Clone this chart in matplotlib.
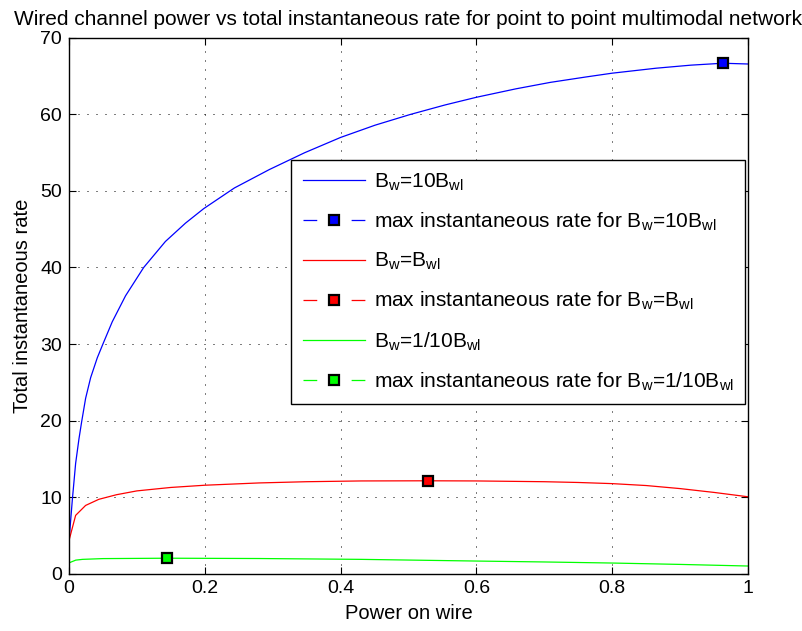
import numpy as np
import matplotlib
matplotlib.use("Agg")
import matplotlib.pyplot as plt

plt.rcParams['font.family'] = ['Liberation Sans', 'DejaVu Sans']
plt.rcParams['mathtext.fontset'] = 'custom'
plt.rcParams['mathtext.rm'] = 'Liberation Sans'
plt.rcParams['mathtext.it'] = 'Liberation Sans'

# power on wire (x) and estimated total instantaneous rate for each bandwidth ratio
x_blue = [0.0, 0.0049, 0.0098, 0.0147, 0.0186, 0.0245, 0.0319, 0.0417, 0.050, 0.0637,
          0.0833, 0.110, 0.142, 0.1716, 0.1985, 0.2437, 0.295, 0.347, 0.4, 0.4507,
          0.5025, 0.554, 0.6, 0.658, 0.709, 0.761, 0.8, 0.8647, 0.916, 0.963, 1.0]
y_blue = [4.2, 9.6, 14.4, 17.6, 19.8, 22.9, 25.6, 28.2, 30.0, 32.9,
          36.3, 40.0, 43.4, 45.8, 47.7, 50.4, 52.8, 55.0, 57.0, 58.6,
          60.0, 61.25, 62.25, 63.35, 64.2, 64.9, 65.4, 66.05, 66.45, 66.7, 66.6]

x_red = [0.0, 0.0098, 0.0245, 0.044, 0.07, 0.1, 0.15, 0.2, 0.28, 0.35, 0.43, 0.529,
         0.6, 0.7, 0.75, 0.8, 0.85, 0.9, 0.95, 1.0]
y_red = [4.3, 7.6, 8.9, 9.7, 10.3, 10.8, 11.25, 11.54, 11.84, 12.0, 12.1, 12.12,
         12.1, 12.0, 11.9, 11.75, 11.5, 11.1, 10.6, 10.03]

x_green = [0.0, 0.01, 0.02, 0.05, 0.145, 0.28, 0.43, 0.6, 0.7, 0.8, 0.9, 1.0]
y_green = [1.39, 1.75, 1.85, 1.95, 2.0, 1.96, 1.85, 1.63, 1.51, 1.37, 1.19, 0.98]

max_x = [0.963, 0.529, 0.145]
max_y = [66.7, 12.12, 2.0]

labels = [r'B$_{\mathrm{w}}$=10B$_{\mathrm{wl}}$',
          r'max instantaneous rate for B$_{\mathrm{w}}$=10B$_{\mathrm{wl}}$',
          r'B$_{\mathrm{w}}$=B$_{\mathrm{wl}}$',
          r'max instantaneous rate for B$_{\mathrm{w}}$=B$_{\mathrm{wl}}$',
          r'B$_{\mathrm{w}}$=1/10B$_{\mathrm{wl}}$',
          r'max instantaneous rate for B$_{\mathrm{w}}$=1/10B$_{\mathrm{wl}}$']

colors = ['#0000ff', '#ff0000', '#00ff00']

fig = plt.figure(figsize=(8.03, 6.31), dpi=100)
ax = fig.add_axes([0.0859, 0.0911, 0.8456, 0.8487])

curves = [(x_blue, y_blue), (x_red, y_red), (x_green, y_green)]
for i, (xs, ys) in enumerate(curves):
    ax.plot(xs, ys, color=colors[i], lw=0.9, label=labels[2 * i])
    ax.plot([max_x[i]], [max_y[i]], color=colors[i], ls='--', dashes=(11, 27.5), lw=0.9,
            marker='s', markersize=7, markerfacecolor=colors[i],
            markeredgecolor='black', markeredgewidth=1.6, label=labels[2 * i + 1])

ax.set_xlim(0, 1)
ax.set_ylim(0, 70)
ax.set_xticks([0, 0.2, 0.4, 0.6, 0.8, 1])
ax.set_xticklabels(['0', '0.2', '0.4', '0.6', '0.8', '1'])
ax.set_yticks(range(0, 71, 10))
ax.tick_params(direction='in', length=5, width=0.8, labelsize=14, top=True, right=True, pad=5)
ax.grid(True, color='black', lw=0.72, ls=(0, (1, 8)))
for sp in ax.spines.values():
    sp.set_linewidth(1.0)

ax.set_xlabel('Power on wire', fontsize=14.5, labelpad=5)
ax.set_ylabel('Total instantaneous rate', fontsize=14.5, labelpad=6)
ax.set_title('Wired channel power vs total instantaneous rate for point to point multimodal network',
             fontsize=15, pad=9)

leg = ax.legend(loc='upper right', bbox_to_anchor=(0.9956, 0.772), borderaxespad=0,
                fontsize=15, numpoints=1, handlelength=3.0, handletextpad=0.4,
                borderpad=0.55, labelspacing=0.86, fancybox=False, framealpha=1,
                edgecolor='black')
leg.get_frame().set_linewidth(1.0)

fig.savefig('out.png', dpi=100)
